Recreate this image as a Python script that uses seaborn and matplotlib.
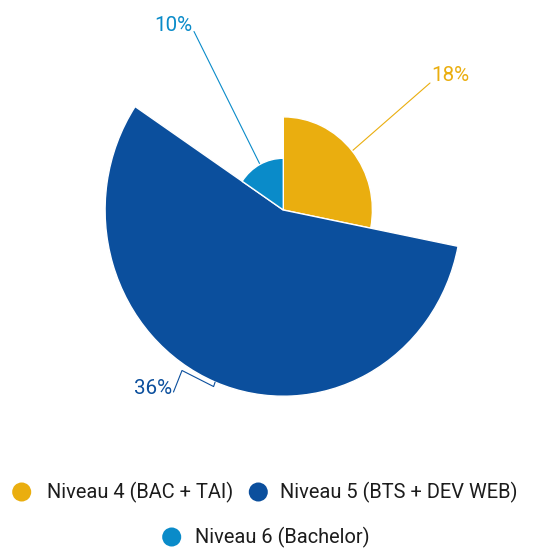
import numpy as np
import matplotlib
matplotlib.use("Agg")
import matplotlib.pyplot as plt
from matplotlib.patches import Wedge
import seaborn as sns
import pandas as pd

# ---- data ----
categories = ["Niveau 4 (BAC + TAI)", "Niveau 5 (BTS + DEV WEB)", "Niveau 6 (Bachelor)"]
values = [18, 36, 10]
value_labels = ["18%", "36%", "10%"]
colors = ["#EAAE0F", "#0B4F9D", "#0A8BC9"]

sns.set_theme(style="white")
plt.rcParams['font.family'] = ['Roboto', 'DejaVu Sans']

W, H = 542, 552
fig = plt.figure(figsize=(W / 100, H / 100), dpi=100)
ax = fig.add_axes([0, 0, 1, 1])
S = 1.045  # vertical stretch of the reference
ax.set_xlim(0, W)
ax.set_ylim(H / S, 0)
ax.axis('off')

cx, cy = 283.3, 210 / S
k = 4.95  # radius per unit value

total = sum(values)
start = -90.0
edge_pts = []
for v, c in zip(values, colors):
    span = v / total * 360.0
    r = v * k
    ax.add_patch(Wedge((cx, cy), r, start, start + span, facecolor=c,
                       edgecolor='white', linewidth=1.0, zorder=2))
    m = np.deg2rad(start + span / 2)
    edge_pts.append((cx + r * np.cos(m), cy + r * np.sin(m)))
    start += span

def P(x, y):
    return (x, y / S)

lw = 0.8
fs_lab = 14.8
fs_leg = 14.4
# 18%
e = edge_pts[0]
a = P(430, 83)
ax.plot([e[0], a[0]], [e[1], a[1]], color=colors[0], lw=lw, zorder=1)
ax.text(*P(431, 75.5), value_labels[0], color=colors[0], fontsize=fs_lab,
        ha='left', va='center')
# 36%
e = edge_pts[1]
pts = [e, (e[0] - 1.5, e[1] + 4.5 / S), P(182, 370.5), P(173.5, 392)]
ax.plot([p[0] for p in pts], [p[1] for p in pts], color=colors[1], lw=lw, zorder=3)
ax.text(*P(171.8, 388.5), value_labels[1], color=colors[1], fontsize=fs_lab,
        ha='right', va='center')
# 10%
e = edge_pts[2]
a = P(194, 31.5)
ax.plot([e[0], a[0]], [e[1], a[1]], color=colors[2], lw=lw, zorder=1)
ax.text(*P(173.5, 25.5), value_labels[2], color=colors[2], fontsize=fs_lab,
        ha='center', va='center')

# ---- legend ----
leg = pd.DataFrame({
    "cat": categories,
    "x": [21.7, 258.3, 171.7],
    "y": [492 / S, 492 / S, 537 / S],
})
sns.scatterplot(data=leg, x="x", y="y", hue="cat", palette=colors, s=13.7 ** 2,
                edgecolor='none', linewidth=0, legend=False, ax=ax, zorder=4)
ax.set_xlim(0, W)
ax.set_ylim(H / S, 0)
ax.axis('off')
text_x = [46.7, 280.5, 195.0]
for cat, tx, ty in zip(categories, text_x, leg["y"]):
    ax.text(tx, ty, cat, fontsize=fs_leg, color='#1c1c1c', ha='left', va='center')

fig.savefig("out.png", dpi=100, facecolor='white')
